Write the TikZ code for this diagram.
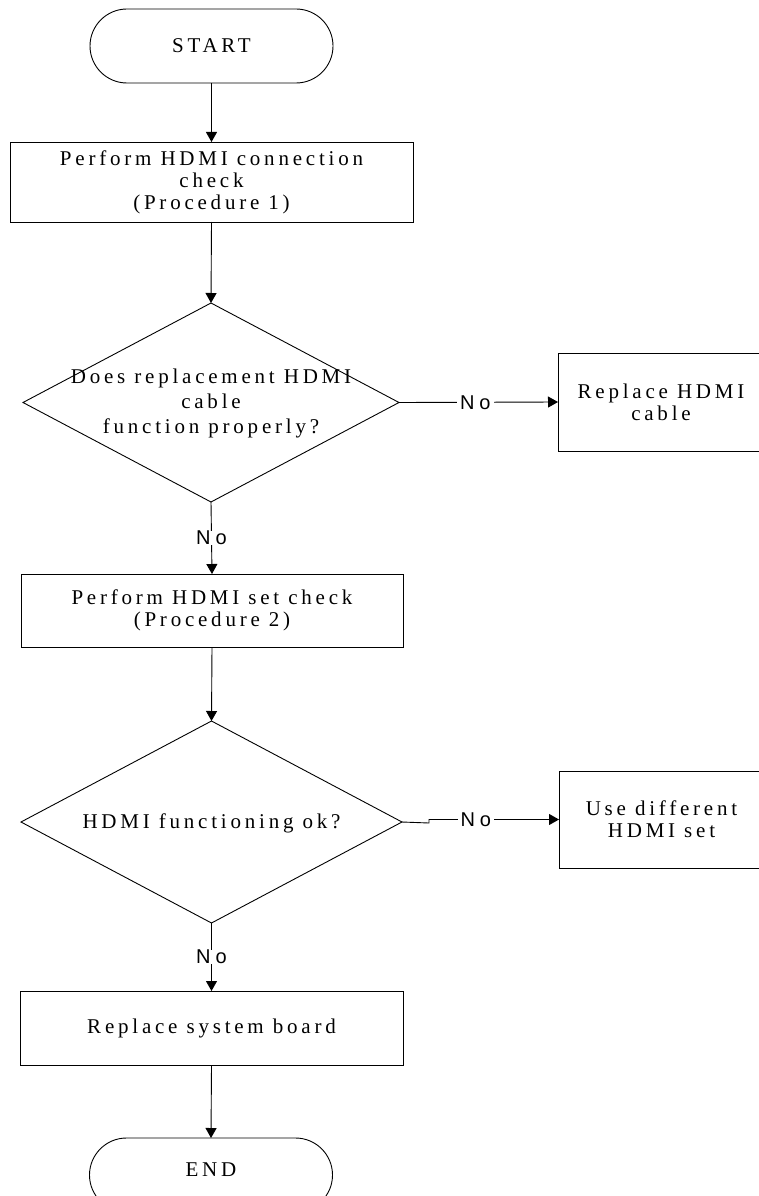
\documentclass[tikz,border=0pt]{standalone}
\usepackage{fontspec}
\setmainfont{Liberation Serif}[LetterSpace=18]
\newfontfamily\lblfont{Liberation Sans}[LetterSpace=25]
\usetikzlibrary{arrows.meta,shapes.geometric}
\begin{document}
\begin{tikzpicture}[x=1pt,y=-1pt,
  every node/.style={inner sep=0pt, outer sep=0pt},
  box/.style={draw, line width=0.9pt, rectangle},
  term/.style={draw, line width=0.9pt, rectangle, rounded corners=37pt, minimum width=243pt, minimum height=74pt},
  dia/.style={draw, line width=0.9pt, diamond},
  txt/.style={align=center, font=\fontsize{21}{22}\selectfont},
  lbl/.style={fill=white, inner xsep=3pt, font=\lblfont\fontsize{20}{22}\selectfont},
  conn/.style={line width=0.9pt, -{Triangle[length=10pt,width=11pt]}}
]
\useasboundingbox (0,0) rectangle (758,1196);
% nodes
\node[term] (start) at (211.5,46) {};
\node[txt] (startt) at (start.center) {START};
\node[box, minimum width=403pt, minimum height=80pt] (p1) at (211.5,182) {};
\node[txt] (p1t) at (p1.center) {Perform HDMI connection\\check\\(Procedure 1)};
\node[dia, minimum width=376pt, minimum height=199pt] (d1) at (211,402.5) {};
\node[txt, font=\fontsize{21}{25}\selectfont] (d1t) at (211,403) {Does replacement HDMI\\cable\\function properly?};
\node[box, minimum width=206pt, minimum height=98pt] (r1) at (661,402) {};
\node[txt] (r1t) at (r1.center) {Replace HDMI\\cable};
\node[box, minimum width=382pt, minimum height=73pt] (p2) at (212,610.5) {};
\node[txt] (p2t) at (p2.center) {Perform HDMI set check\\(Procedure 2)};
\node[dia, minimum width=381pt, minimum height=202pt] (d2) at (211.5,822) {};
\node[txt] (d2t) at (211.5,823) {HDMI functioning ok?};
\node[box, minimum width=205pt, minimum height=97pt] (r2) at (661.5,819.5) {};
\node[txt] (r2t) at (r2.center) {Use different\\HDMI set};
\node[box, minimum width=383pt, minimum height=74pt] (p3) at (211.5,1028) {};
\node[txt] (p3t) at (p3.center) {Replace system board};
\node[term] (end) at (211,1175) {};
\node[txt] (endt) at (211,1170) {END};
% connectors
\draw[conn] (start.south) -- (p1.north);
\draw[conn] (p1.south) -- (d1.north);
\draw[conn] (d1.east) -- node[lbl, pos=0.48] (n1) {No} (r1.west);
\draw[conn] (d1.south) -- node[lbl] (n2) {No} (p2.north);
\draw[conn] (p2.south) -- (d2.north);
\coordinate (j1) at (429,823);
\coordinate (j2) at (429,819.5);
\draw[conn] (d2.east) -- (j1) -- (j2) -- node[lbl, pos=0.36] (n3) {No} (r2.west);
\draw[conn] (d2.south) -- node[lbl] (n4) {No} (p3.north);
\draw[conn] (p3.south) -- (end.north);
\end{tikzpicture}
\end{document}
